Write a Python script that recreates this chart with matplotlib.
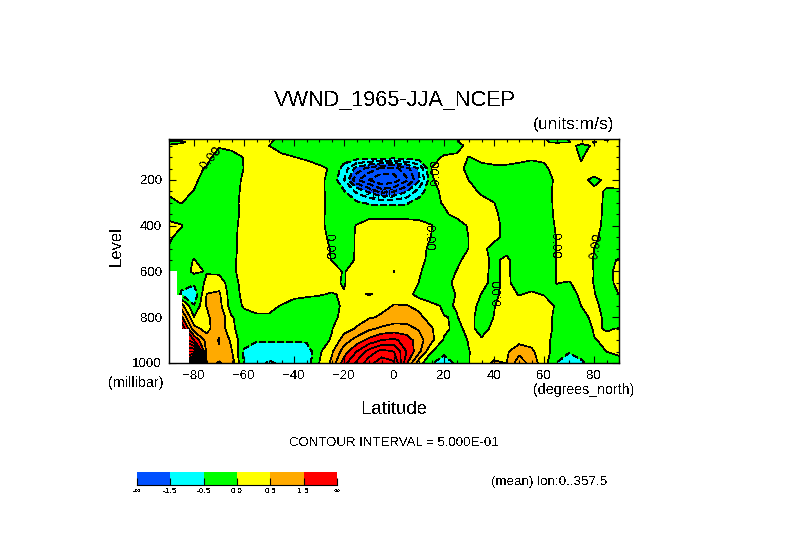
#!/usr/bin/env python3
"""Zonal mean VWND cross section, 1965 JJA, NCEP."""
import numpy as np
import matplotlib
matplotlib.use("Agg")
import matplotlib.pyplot as plt

lats = [-90, -85, -80, -75, -70, -65, -60, -55, -50, -45, -40, -35, -30, -25, -20, -15, -10, -5, 0,
        5, 10, 15, 20, 25, 30, 35, 40, 45, 50, 55, 60, 65, 70, 75, 80, 85, 90]
levels = [20, 35, 50, 100, 150, 200, 250, 300, 350, 400, 450, 500, 550, 600, 650, 700, 750, 800, 850, 900, 950, 1000]

# values, one list per pressure level, -90 to 90
v20 = [.05, .05, .05, -.01, -.005, .05, .1, .1, .08, -.1, -.15, -.15, -.15, -.15, -.15, -.15, -.15, -.15, -.15,
       -.15, -.15, -.15, -.15, -.05, .15, .2, .2, .2, .2, .1, .01, -.05, .01, .08, .05, -.03, .03]
v35 = [-.04, -.04, .1, .1, .1, .1, .15, .15, .05, -.15, -.2, -.2, -.2, -.2, -.2, -.2, -.2, -.2, -.2,
       -.2, -.2, -.2, -.2, -.05, .2, .25, .25, .25, .25, .2, .03, -.05, -.01, .08, -.01, .05, .1]
v50 = [.02, .1, .2, .2, .06, .2, .25, .25, 0, -.2, -.25, -.25, -.25, -.25, -.25, -.25, -.25, -.25, -.25,
       -.25, -.25, -.25, -.25, -.2, .15, .3, .3, .3, .3, .3, .3, .3, .1, -.08, .04, .2, .2]
v100 = [.2, .2, .2, .18, -.25, -.25, .03, .3, .3, .1, .01, -.1, -.2, -.25, -.25, -.2, -.2, -.2, -.2,
        -.2, -.2, -.15, .05, .1, -.01, .1, .2, .2, .1, .1, .1, .3, .15, -.03, .2, .2, .15]
v150 = [.2, .2, .15, -.05, -.3, -.3, .01, .3, .35, .3, .3, .25, .1, -.05, -.7, -1.7, -2.2, -2.6, -2.7,
        -2.2, -1.45, .01, .15, .2, -.15, -.1, -.1, -.1, -.1, -.25, -.1, .18, .2, .05, .23, .2, .15]
v200 = [.2, .2, .1, -.2, -.3, -.3, .1, .35, .4, .4, .4, .35, .1, -.12, -.98, -2.4, -3, -3.5, -3.3,
        -2.6, -1.6, -.05, .2, .3, -.01, -.2, -.25, -.3, -.3, -.3, -.25, .1, .3, .1, -.1, .07, .15]
v250 = [.03, .15, -.02, -.25, -.3, -.25, .13, .35, .4, .4, .4, .35, .1, -.12, -.45, -1.1, -1.6, -2.2, -2,
        -1.55, -.75, -.15, .1, .2, .2, -.1, -.25, -.3, -.3, -.3, -.2, .12, .3, .25, .08, -.03, -.05]
v300 = [-.05, .01, -.2, -.3, -.3, -.2, .15, .4, .4, .4, .4, .35, .1, -.1, -.2, -.4, -.55, -.6, -.6,
        -.55, -.3, -.1, .03, .2, .25, .2, .01, -.2, -.3, -.3, -.2, .1, .3, .3, .1, -.05, -.2]
v350 = [-.2, -.2, -.3, -.3, -.3, -.2, .13, .4, .4, .4, .4, .35, .1, -.12, -.2, -.2, -.15, -.15, -.15,
        -.15, -.15, -.1, -.06, .1, .25, .25, .1, -.2, -.3, -.3, -.2, .08, .3, .3, .1, -.06, -.2]
v400 = [.15, .02, -.3, -.3, -.3, -.2, .2, .4, .4, .4, .4, .35, .1, -.12, -.2, .02, .2, .2, .2,
        .2, .15, .01, -.2, -.2, .05, .25, .15, -.15, -.3, -.3, -.25, .05, .3, .3, .12, -.1, -.25]
v450 = [.04, -.1, -.3, -.3, -.3, -.2, .25, .4, .4, .4, .4, .35, .1, -.06, -.25, .05, .3, .3, .3,
        .25, .2, -.01, -.2, -.25, .01, .25, .15, -.15, -.3, -.3, -.25, .01, .3, .3, .08, -.15, -.25]
v500 = [-.02, -.2, -.25, -.3, -.3, -.2, .25, .4, .4, .4, .4, .35, .12, -.02, -.25, .05, .3, .3, .3,
        .3, .15, -.1, -.2, -.2, .01, .15, -.2, -.1, -.3, -.3, -.25, .01, .3, .2, .005, -.25, -.2]
v550 = [-.2, -.2, .02, -.2, -.3, -.15, .25, .4, .4, .4, .4, .35, .15, -.01, -.25, .06, .3, .3, .3,
        .3, .15, -.15, -.2, -.1, .15, .1, -.06, .07, -.2, -.25, -.25, .01, .3, .2, -.02, -.1, .03]
v600 = [-.1, -.25, .1, -.03, -.1, -.15, .25, .4, .4, .4, .4, .35, .25, .15, -.03, .2, .3, .3, .51,
        .3, .05, -.2, -.2, .01, .2, .1, -.08, .08, -.2, -.25, -.25, .01, .2, .2, -.01, -.15, .15]
v650 = [-.1, -.4, -.4, .1, .25, -.25, .2, .4, .4, .4, .4, .3, .2, .1, -.04, .3, .2, .3, .3,
        .3, -.01, -.2, -.15, .1, .25, .1, -.1, .1, -.2, -.15, -.15, .01, -.03, .15, -.01, -.15, .12]
v700 = [-.1, -.55, -.9, .52, .6, -.3, .15, .35, .3, .2, .1, .05, .02, -.02, .03, .05, -.02, .05, .35,
        .2, -.2, -.25, -.2, .02, .2, -.01, -.1, .15, -.02, .05, -.02, -.1, -.15, .08, .02, -.2, .005]
v750 = [0, .7, -.45, .52, .7, -.25, .05, .1, .1, -.02, -.15, -.15, -.15, -.2, .1, .3, .35, .4, .52,
        .52, .4, .1, -.05, .02, .15, -.1, -.02, .2, .2, .2, .2, -.05, -.2, .005, .1, -.15, -.15]
v800 = [0, 1.6, .01, .35, .95, .03, -.15, -.05, -.05, -.2, -.25, -.25, -.25, -.1, .1, .3, .45, .55, .75,
        .8, .6, .3, .01, -.02, .15, -.2, .01, .2, .2, .2, .15, -.08, -.25, -.1, .08, -.05, -.1]
v850 = [2, 2.5, .7, .3, .9, .1, -.25, -.3, -.3, -.3, -.3, -.3, -.25, -.03, .3, .55, .9, 1.1, 1.2,
        1.15, .95, .55, .1, -.12, .12, -.15, .1, .2, .25, .25, .15, -.08, -.3, -.15, .02, -.01, .005]
v900 = [3, 3, 2, .8, 1.02, .4, -.35, -.45, -.43, -.43, -.43, -.42, -.15, .03, .75, 1.2, 1.65, 2, 2.1,
        1.8, 1.2, .65, -.05, -.2, .03, .05, .2, .28, .3, .28, .12, -.12, -.3, -.2, -.01, .03, .05]
v950 = [3, 4, 4, .9, .96, .55, -.55, -.75, -.8, -.8, -.8, -.8, -.1, .4, 1.25, 2, 2.7, 3.2, 3,
        2, 1.15, .02, -.35, -.3, -.01, .15, .25, .42, .85, .62, .12, -.12, -.45, -.25, -.2, .002, .03]
v1000 = [3, 5, 7, .9, .42, .8, -.55, -.85, -1.05, -.95, -.85, -.8, -.01, .6, 1.8, 2.6, 3.3, 3.8, 3.6,
         1.6, .2, -.45, -.8, -.4, -.01, .3, .58, .49, 1.3, .8, .2, -.5, -.9, -.6, -.2, -.2, -.05]

fill_levels = [-1.5, -0.5, 0, 0.5, 1.5]
fill_colors = ["#0050ff", "#00ffff", "#00ff00", "#ffff00", "#ffaa00", "#ff0000"]
line_levels = [-4, -3.5, -3, -2.5, -2, -1.5, -1, -0.5, 0, 0.5, 1, 1.5, 2, 2.5, 3, 3.5, 4, 4.5, 5, 5.5, 6, 6.5]

# missing data in the lower left corner
mask_lat = [-86.9, -84.9, -82]
mask_top = [600, 703, 850]

zero_lat = [-73.2, -26, 13.6, 17.2, 41.6, 64.4, 81.2]
zero_lev = [104, 493, 454, 165, 690, 489, 489]
zero_rot = [50, -90, -90, 90, 90, -90, 80]

cbar_labels = ["-\u221e", "-1.5", "-0.5", "0.0", "0.5", "1.5", "\u221e"]

plt.rcParams["font.family"] = ["Liberation Sans", "DejaVu Sans"]
plt.rcParams["text.antialiased"] = False

vwnd = np.array([v20, v35, v50, v100, v150, v200, v250, v300, v350, v400, v450, v500, v550,
                 v600, v650, v700, v750, v800, v850, v900, v950, v1000])

W, H = 789, 558
fig = plt.figure(figsize=(W / 100, H / 100), dpi=100)
ax = fig.add_axes([169 / W, 1 - 363 / H, 450 / W, 224 / H])

ax.contourf(lats, levels, vwnd, levels=fill_levels, colors=fill_colors, extend="both", antialiased=False)
ax.contour(lats, levels, vwnd, levels=line_levels, colors="k", linewidths=0.45, antialiased=False,
           linestyles=[(0, (8, 5)) if v < 0 else "-" for v in line_levels])

for lat, top in zip(mask_lat, mask_top):
    ax.fill_between([-90, lat], top, 1000, color="white", lw=0, zorder=3)

for lat, lev, rot in zip(zero_lat, zero_lev, zero_rot):
    ax.text(lat, lev, "0.00", rotation=rot, fontsize=9.5, ha="center", va="center", zorder=4)
ax.text(-5.2, 266, "-1.00", fontsize=9.5, ha="center", va="center", zorder=4)

ax.set_xlim(-90, 90)
ax.set_ylim(1000, 20.8)
ax.set_xticks([-80, -60, -40, -20, 0, 20, 40, 60, 80])
ax.set_xticklabels(["\u221280", "\u221260", "\u221240", "\u221220", "0", "20", "40", "60", "80"])
ax.set_xticks(np.arange(-90, 91, 5), minor=True)
ax.set_yticks([200, 400, 600, 800, 1000])
ax.set_yticks(np.arange(50, 1001, 50), minor=True)
ax.tick_params(which="both", direction="in", top=True, right=True, width=0.8, labelsize=9.5, pad=5)
ax.tick_params(which="major", length=5)
ax.tick_params(which="minor", length=2.5)
for s in ax.spines.values():
    s.set_linewidth(1.0)
    s.set_zorder(5)


def put(x, y, s, size, **kw):
    fig.text(x / W, 1 - y / H, s, fontsize=size, va="center", **kw)


put(394.5, 100, "VWND_1965-JJA_NCEP", 15.7, ha="center")
put(533, 125, "(units:m/s)", 12.5)
put(394.5, 410, "Latitude", 13.4, ha="center")
put(116, 246, "Level", 12, ha="center", rotation=90)
put(108, 383, "(millibar)", 10.4)
put(533, 390, "(degrees_north)", 10.2)
put(393.5, 443, "CONTOUR INTERVAL = 5.000E-01", 9.5, ha="center")
put(491, 482, "(mean) lon:0..357.5", 9.6)

cax = fig.add_axes([137 / W, 1 - 485 / H, 200 / W, 13 / H])
cax.pcolormesh(np.arange(7), [0, 1], np.arange(6).reshape(1, 6), cmap=matplotlib.colors.ListedColormap(fill_colors),
               antialiased=False)
cax.set_xlim(0, 6)
cax.set_ylim(0, 1)
cax.set_yticks([])
cax.set_xticks(np.arange(7))
cax.set_xticklabels(cbar_labels)
cax.tick_params(axis="x", direction="in", length=5, width=0.8, labelsize=6, pad=2)
for name in ["top", "left", "right"]:
    cax.spines[name].set_visible(False)

fig.savefig("out.png", dpi=100)
